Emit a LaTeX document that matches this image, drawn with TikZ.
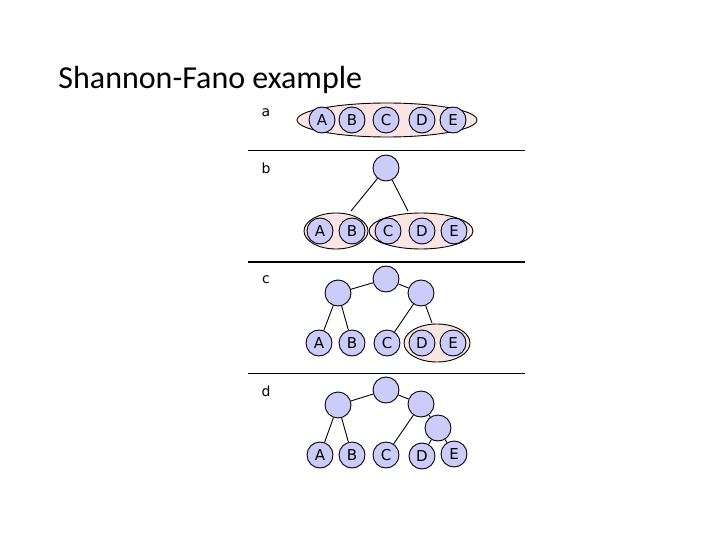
\documentclass[tikz,border=0pt]{standalone}
\usepackage{fontspec}
\setmainfont{Carlito}
\newfontfamily\dv{DejaVu Sans}
\definecolor{nodefill}{RGB}{204,204,250}
\definecolor{grpfill}{RGB}{250,228,228}
\begin{document}
\begin{tikzpicture}[x=1pt,y=-1pt,line width=0.9pt,
  nd/.style={circle,draw=black,fill=nodefill,minimum size=26pt,inner sep=0pt,font=\dv\fontsize{15}{17}\selectfont},
  lbl/.style={font=\dv\fontsize{14}{16}\selectfont}]
\useasboundingbox (0,0) rectangle (720,540);
\node[anchor=west,inner sep=0pt,font=\fontsize{32}{38}\selectfont] (title) at (58,80) {Shannon-Fano example};
% separators
\coordinate (s1l) at (248,150); \coordinate (s1r) at (525,150);
\coordinate (s2l) at (248,262); \coordinate (s2r) at (525,262);
\coordinate (s3l) at (248,373); \coordinate (s3r) at (525,373);
\draw (s1l) -- (s1r);
\draw[line width=1.6pt] (s2l) -- (s2r);
\draw (s3l) -- (s3r);
% labels
\node[lbl] (la) at (266,113) {a};
\node[lbl] (lb) at (266,168) {b};
\node[lbl] (lc) at (266,280) {c};
\node[lbl] (ld) at (266,391) {d};
% a
\draw[fill=grpfill] (387,120) ellipse [x radius=90, y radius=17];
\node[nd] (aA) at (322,120) {A};
\node[nd] (aB) at (352,120) {B};
\node[nd] (aC) at (386,120) {C};
\node[nd] (aD) at (422,120) {D};
\node[nd] (aE) at (453,120) {E};
% b
\node[nd] (bR) at (386,168) {};
\draw[fill=grpfill] (336,231) ellipse [x radius=32, y radius=18];
\draw[fill=grpfill] (421,231) ellipse [x radius=52, y radius=18];
\coordinate (bL) at (351,211); \coordinate (bRt) at (408,211);
\draw (bR) -- (bL); \draw (bR) -- (bRt);
\node[nd] (bA) at (320,231) {A};
\node[nd] (bB) at (352,231) {B};
\node[nd] (bC) at (388,231) {C};
\node[nd] (bD) at (422,231) {D};
\node[nd] (bE) at (454,231) {E};
% c
\node[nd] (cR) at (386,279) {};
\node[nd] (cL) at (338,293) {};
\node[nd] (cRR) at (421,293) {};
\draw[fill=grpfill] (437,343) ellipse [x radius=33, y radius=19];
\coordinate (cG) at (432,323);
\node[nd] (cA) at (319,343) {A};
\node[nd] (cB) at (352,343) {B};
\node[nd] (cC) at (387,343) {C};
\node[nd] (cD) at (422,343) {D};
\node[nd] (cE) at (453,343) {E};
\draw (cR) -- (cL); \draw (cR) -- (cRR);
\draw (cL) -- (cA); \draw (cL) -- (cB);
\draw (cRR) -- (cC); \draw (cRR) -- (cG);
% d
\node[nd] (dR) at (386,390) {};
\node[nd] (dL) at (338,405) {};
\node[nd] (dRR) at (421,404) {};
\node[nd] (dS) at (438,428) {};
\node[nd] (dA) at (320,455) {A};
\node[nd] (dB) at (352,455) {B};
\node[nd] (dC) at (386,455) {C};
\node[nd] (dD) at (422,456) {D};
\node[nd] (dE) at (454,454) {E};
\draw (dR) -- (dL); \draw (dR) -- (dRR);
\draw (dL) -- (dA); \draw (dL) -- (dB);
\draw (dRR) -- (dC); \draw (dRR) -- (dS);
\draw (dS) -- (dD); \draw (dS) -- (dE);
\end{tikzpicture}
\end{document}
